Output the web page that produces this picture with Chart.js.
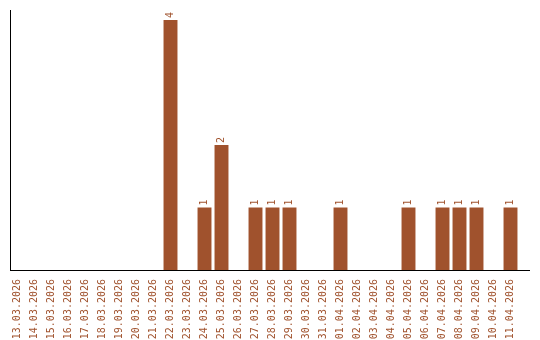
<!DOCTYPE html>
<html><head><meta charset="utf-8">
<script src="https://cdn.jsdelivr.net/npm/chart.js@4/dist/chart.umd.min.js"></script>
<style>html,body{margin:0;padding:0;background:#fff}#wrap{width:540px;height:340px}</style>
</head><body><div id="wrap"><canvas id="c"></canvas></div>
<script>
const categories = ["13.03.2026","14.03.2026","15.03.2026","16.03.2026","17.03.2026","18.03.2026","19.03.2026","20.03.2026","21.03.2026","22.03.2026","23.03.2026","24.03.2026","25.03.2026","26.03.2026","27.03.2026","28.03.2026","29.03.2026","30.03.2026","31.03.2026","01.04.2026","02.04.2026","03.04.2026","04.04.2026","05.04.2026","06.04.2026","07.04.2026","08.04.2026","09.04.2026","10.04.2026","11.04.2026"];
const counts = [0,0,0,0,0,0,0,0,0,4,0,1,2,0,1,1,1,0,0,1,0,0,0,1,0,1,1,1,0,1];
const COLOR = "#A0522D";
const FONT = "10px 'DejaVu Sans Mono', monospace";

const decor = {
  id: 'decor',
  afterDatasetsDraw(chart) {
    const ctx = chart.ctx, meta = chart.getDatasetMeta(0);
    ctx.save();
    ctx.font = FONT; ctx.fillStyle = COLOR;
    ctx.textAlign = 'left'; ctx.textBaseline = 'middle';
    meta.data.forEach((bar, i) => {
      const v = counts[i];
      if (!v) return;
      ctx.save();
      ctx.translate(bar.x, bar.y - 2);
      ctx.rotate(-Math.PI / 2);
      ctx.fillText(String(v), 0, 0);
      ctx.restore();
    });
    const a = chart.chartArea;
    ctx.strokeStyle = '#000'; ctx.lineWidth = 1;
    ctx.beginPath();
    ctx.moveTo(10.5, a.top); ctx.lineTo(10.5, a.bottom + 0.5);
    ctx.moveTo(10, a.bottom + 0.5); ctx.lineTo(530, a.bottom + 0.5);
    ctx.stroke();
    ctx.restore();
  }
};

new Chart(document.getElementById('c'), {
  type: 'bar',
  data: { labels: categories, datasets: [{ data: counts, backgroundColor: COLOR, borderWidth: 0, barPercentage: 1, categoryPercentage: 0.82 }] },
  options: {
    responsive: true, maintainAspectRatio: false, animation: false, devicePixelRatio: 1,
    layout: { padding: { left: 9, top: 10, right: 21, bottom: 0 } },
    plugins: { legend: { display: false }, tooltip: { enabled: false } },
    scales: {
      x: {
        grid: { display: false }, border: { display: false },
        ticks: { color: COLOR, font: { family: "'DejaVu Sans Mono', monospace", size: 10 }, minRotation: 90, maxRotation: 90, autoSkip: false, padding: 1 },
        afterFit(s) { s.height = 70; }
      },
      y: { display: false, min: 0, max: 4.16 }
    }
  },
  plugins: [decor]
});
</script></body></html>
